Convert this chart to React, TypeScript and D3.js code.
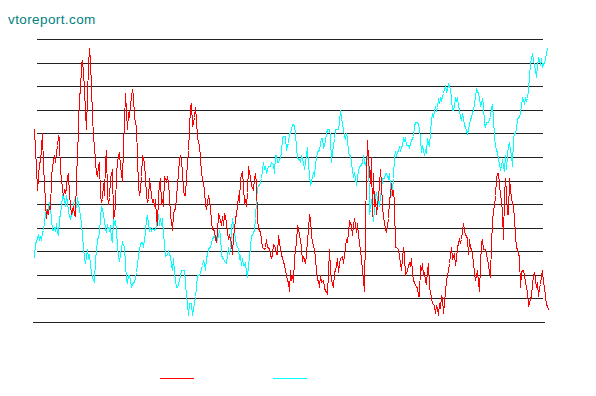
import React from "react";
import * as d3 from "d3";

// Values (grid units: 0..120, one grid step = 10)
const red1 = [82,73,66,56,61,68,68,74,80,66,59,51,44,48,46,49,48,61,66,71,68,72,75,79,78,63,62,56,54,56,55,57,62,63,54,50,46,49,46,45,62,71,82,97,97,110,111,106,99,89,82,96,109,116,111,99,78,75,68,63,62,66,68,54,51,52,59,54,68,73,54,50,53,61,65,44,46,49,63,68,71,72,66,63,60,75,85,97,89,82,89,87,92,99,96,87,85,83,70,58,54,56,62,71,69,68,61,54,51,52,61,54,51,52,49,52,44,41,54,58];
const red2 = [61,50,52,49,62,60,62,59,54,45,43,39,46,48,48,58,63,69,71,69,63,56,54,54,62,73,82,91,93,83,85,87,91,86,78,75,70,63,61,59,56,50,48,51,54,49,42,40,39,39,35,34,38,46,45,41,45,41,46,45,42,38,35,37,34,29,37,39,44,46,49,54,51,61,64,58,50,52,49,55,66,63,62,58,56,61,63,59,44,40,39,38,35,32,31,32,35,32,32,31,29,27,29,33,32,29,29,37,34,31,29,27,26,24,20,18,17,13];
const red3 = [22,18,20,17,27,34,41,40,37,35,32,26,28,25,29,35,39,46,44,37,34,31,27,22,18,18,15,20,17,18,15,13,13,12,21,31,22,18,15,21,22,24,27,21,25,27,28,25,29,32,35,34,38,43,41,37,41,44,41,38,42,37,34,27,22,18,13,39,63,77,69,59,70,45,63,49,52,46,49,58,65,59,49,45,42,40,38,44,52,54,59,54,56,51,32,32,31,28,25,22,27,32,28,20,22,24,25,24,27,21,18,17,15,15,11,11];
const red4 = [24,22,25,20,21,18,16,22,25,15,13,10,8,7,4,7,6,3,8,6,11,10,4,8,13,18,20,22,25,29,32,27,28,29,24,27,32,35,34,35,39,42,39,37,37,35,29,35,32,31,29,25,21,18,20,22,17,13,24,34,35,31,31,29,27,24,21,19,34,42,48,49,54,61,63,63,59,54,52,46,35,54,61,55,46,46,61,52,51,49,44,37,32,31,29,28,15,21,22,22,20,17,15,13,7,8,10,11,16,20,21,15,17,11,15,16,20,22,17,15,11,7,7,5];

const cyan1 = [27,34,34,36,37,35,36,35,38,39,43,46,48,46,51,48,44,39,39,40,39,42,38,37,44,46,49,54,52,49,54,51,47,45,44,46,46,50,52,50,49,53,48,45,42,37,32,27,25,28,31,27,29,24,21,19,17,27,30,35,36,38,44,49,48,46,43,40,38,41,39,41,35,34,44,42,43,39,32,28,26,29,32,34,32,25,18,17,20,20,18,15,16,17,17,19,21,25,31,33,34,34,32,35,38,44,45,42,39,40,39,40,39,40,41,44,46,41];
const cyan2 = [44,41,44,37,34,28,29,30,29,28,24,22,27,21,18,15,15,18,20,22,22,22,22,17,11,8,3,8,8,3,6,8,11,15,20,20,20,21,24,26,25,22,27,29,31,32,32,34,35,37,35,36,35,37,39,37,29,27,27,26,25,29,32,29,32,39,44,41,38,35,33,31,27,28,24,27,24,24,25,21,19,24,32,37,37,38,39,44,52,57,58,58,61,65,68,65,66,63,65,66,66,66,68,67,63,71,71,68,68,69,70,72,78,79,79,73,75,76,80];
const cyan3 = [80,82,84,84,83,80,74,70,69,69,68,71,69,68,65,68,71,74,66,63,58,60,62,63,62,67,70,72,73,73,76,78,78,74,75,77,80,82,82,82,79,68,72,75,78,82,82,82,82,85,90,87,84,82,79,78,80,78,72,71,71,68,64,62,63,61,58,62,64,66,66,67,68,71,68,67,69,69,73,46,48,52,48,43,48,54,55,52,51,49,54,56,61,61,61,63,63,62,61,63,58,54,56,61,71,72,71,72,73,74,73,74,75,78,77,78,75,75,75,74,76,77,78,79,83,85,85,85,84,82];
const cyan4 = [78,72,75,73,71,73,72,78,76,75,80,86,88,87,90,91,90,91,95,93,95,94,96,97,99,100,98,99,101,100,99,95,90,90,92,95,94,95,92,90,87,86,88,87,83,83,81,80,82,84,86,87,89,90,93,96,99,98,97,95,92,93,95,92,84,83,85,85,85,86,87,91,92,87,78,75,73,72,69,67,65,66,69,66,64,71,65,71,75,76,73,71,66,78,80,80,82,86,87,87,89,92,95,94,93,95,94,95,99,104,110,112,114,111,109,107,104,109,112,111,109,112,108,110,110,112,114,116];

const yTicks = [10,20,30,40,50,60,70,80,90,100,110,120];
const titleText = "vtoreport.com";

function seriesScale(parts: number[][], xs: number[]) {
  const starts: number[] = [];
  let acc = 0;
  parts.forEach((p) => { starts.push(acc); acc += p.length; });
  const domain = [...starts, acc - 1];
  return d3.scaleLinear().domain(domain).range(xs);
}

export default function App() {
  const W = 596, H = 396;
  const y = d3.scaleLinear().domain([0, 120]).range([322, 39]);
  const redParts = [red1, red2, red3, red4];
  const cyanParts = [cyan1, cyan2, cyan3, cyan4];
  const red = redParts.flat();
  const cyan = cyanParts.flat();
  const xr = seriesScale(redParts, [33.5, 160, 290, 420, 548]);
  const xc = seriesScale(cyanParts, [33.5, 160, 290, 420, 547]);
  const lineR = d3.line<number>().x((_, i) => Math.round(xr(i)) + 0.5).y((d) => Math.round(y(d)) + 0.5);
  const lineC = d3.line<number>().x((_, i) => Math.round(xc(i)) + 0.5).y((d) => Math.round(y(d)) + 0.5);
  return (
    <svg width={W} height={H} style={{ position: "absolute", left: 0, top: 0, background: "#fff" }}>
      <text x={8} y={24} fill="#008080" fontFamily="'Liberation Sans', Arial, sans-serif" fontSize={13.5} letterSpacing={0.4}>{titleText}</text>
      {yTicks.map((t) => (
        <line key={t} x1={37} x2={543} y1={Math.round(y(t)) + 0.5} y2={Math.round(y(t)) + 0.5} stroke="#222" strokeWidth={1} shapeRendering="crispEdges" />
      ))}
      <line x1={33} x2={545} y1={Math.round(y(0)) + 0.5} y2={Math.round(y(0)) + 0.5} stroke="#222" strokeWidth={1} shapeRendering="crispEdges" />
      <path d={lineC(cyan) || ""} fill="none" stroke="#00FFFF" strokeWidth={1} shapeRendering="crispEdges" />
      <path d={lineR(red) || ""} fill="none" stroke="#FF0000" strokeWidth={1} shapeRendering="crispEdges" />
      <line x1={160} x2={194} y1={378.5} y2={378.5} stroke="#FF0000" strokeWidth={1} shapeRendering="crispEdges" />
      <line x1={273} x2={307} y1={378.5} y2={378.5} stroke="#00FFFF" strokeWidth={1} shapeRendering="crispEdges" />
    </svg>
  );
}
